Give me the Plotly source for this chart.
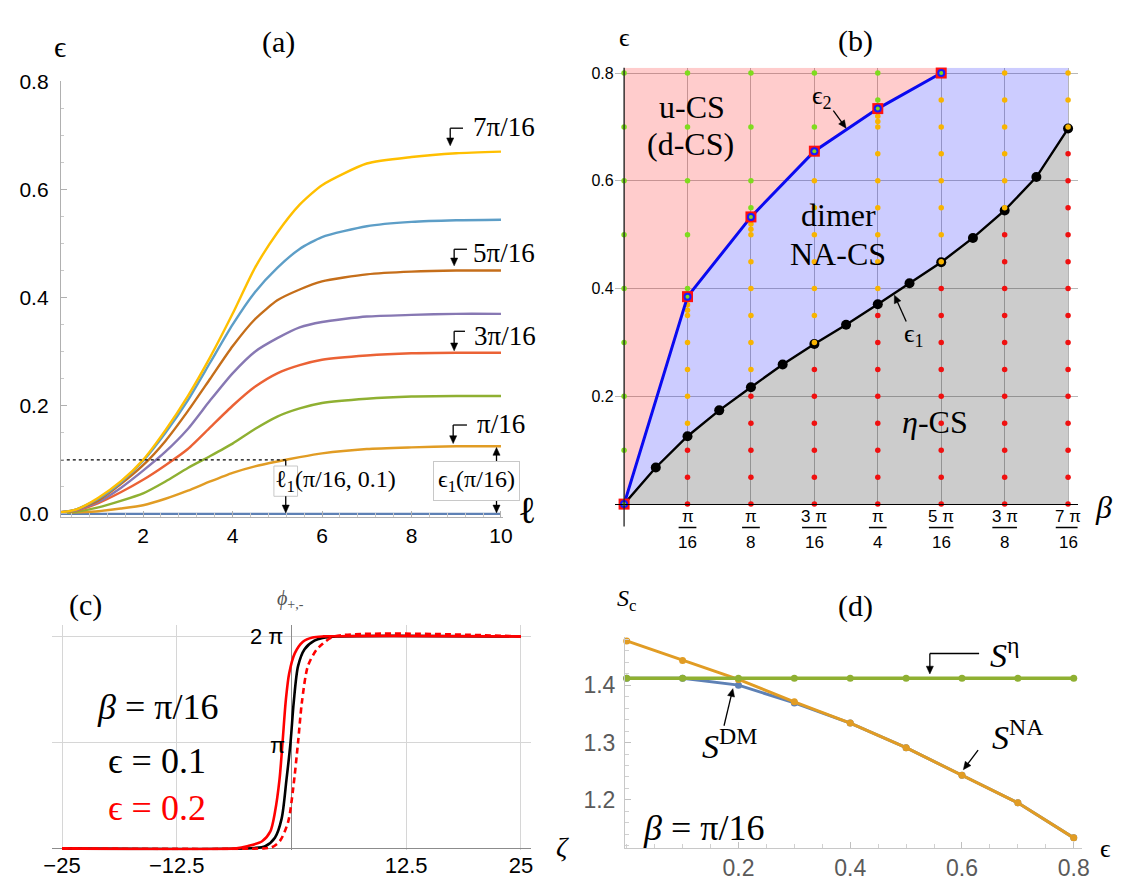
import math
import plotly.graph_objects as go

W, H = 1125, 890
SERIF = "Liberation Serif, DejaVu Serif, serif"
SANS = "Liberation Sans, Arial, sans-serif"

# ---------------- panel (a) data ----------------
ell = [0.16, 0.5, 1, 1.5, 2, 2.5, 3, 3.5, 4, 4.5, 5, 5.5, 6, 7, 8, 9, 10]
eps_b0 = [0, 0, 0, 0, 0, 0, 0, 0, 0, 0, 0, 0, 0, 0, 0, 0, 0]
eps_b1 = [0.002, 0.003, 0.005, 0.010, 0.016, 0.028, 0.043, 0.060, 0.076, 0.088, 0.097, 0.105, 0.112, 0.120, 0.123, 0.125, 0.125]
eps_b2 = [0.002, 0.004, 0.012, 0.024, 0.038, 0.060, 0.085, 0.107, 0.130, 0.157, 0.180, 0.195, 0.205, 0.213, 0.217, 0.218, 0.218]
eps_b3 = [0.003, 0.006, 0.020, 0.040, 0.063, 0.090, 0.120, 0.160, 0.200, 0.235, 0.260, 0.275, 0.285, 0.293, 0.297, 0.298, 0.298]
eps_b4 = [0.003, 0.007, 0.022, 0.048, 0.080, 0.115, 0.157, 0.210, 0.260, 0.300, 0.325, 0.345, 0.355, 0.365, 0.368, 0.370, 0.370]
eps_b5 = [0.003, 0.008, 0.025, 0.055, 0.090, 0.135, 0.190, 0.250, 0.310, 0.360, 0.395, 0.415, 0.430, 0.443, 0.448, 0.450, 0.450]
eps_b6 = [0.003, 0.008, 0.028, 0.058, 0.098, 0.150, 0.210, 0.280, 0.350, 0.410, 0.455, 0.490, 0.512, 0.532, 0.540, 0.543, 0.544]
eps_b7 = [0.003, 0.008, 0.030, 0.060, 0.100, 0.155, 0.218, 0.290, 0.370, 0.455, 0.520, 0.572, 0.608, 0.648, 0.660, 0.667, 0.670]
a_series = [eps_b0, eps_b1, eps_b2, eps_b3, eps_b4, eps_b5, eps_b6, eps_b7]
a_colors = ["#5E81B5", "#E19C24", "#8FB032", "#EB6235", "#8778B3", "#C56E1A", "#5D9EC7", "#FFBF00"]
a_level = 0.1          # dotted threshold
a_ell1 = 5.19          # l1(pi/16, 0.1)

# ---------------- panel (b) data (beta in units of pi/16) ----------------
eps1_beta = [0, 0.5, 1, 1.5, 2, 2.5, 3, 3.5, 4, 4.5, 5, 5.5, 6, 6.5, 7]
eps1_vals = [0, 0.068, 0.126, 0.174, 0.217, 0.259, 0.297, 0.333, 0.371, 0.410, 0.449, 0.494, 0.545, 0.607, 0.697]
eps2_beta = [0, 1, 2, 3, 4, 5]
eps2_vals = [0, 0.385, 0.533, 0.655, 0.734, 0.800]
b_top = 0.81
grid_cols = [0, 1, 2, 3, 4, 5, 6, 7]
red_eps_by_col = [
    [],
    [0, 0.05, 0.1],
    [0, 0.05, 0.1, 0.15, 0.2],
    [0, 0.05, 0.1, 0.15, 0.2, 0.25],
    [0, 0.05, 0.1, 0.15, 0.2, 0.25, 0.3, 0.35],
    [0, 0.05, 0.1, 0.15, 0.2, 0.25, 0.3, 0.35, 0.4],
    [0, 0.05, 0.1, 0.15, 0.2, 0.25, 0.3, 0.35, 0.4, 0.45, 0.5],
    [0, 0.05, 0.1, 0.15, 0.2, 0.25, 0.3, 0.35, 0.4, 0.45, 0.5, 0.55, 0.6, 0.65],
]
yellow_eps_by_col = [
    [],
    [0.15, 0.2, 0.25, 0.3, 0.35, 0.36, 0.37, 0.38],
    [0.25, 0.3, 0.35, 0.4, 0.45, 0.5, 0.51, 0.52, 0.53],
    [0.3, 0.35, 0.4, 0.45, 0.5, 0.55, 0.6, 0.65],
    [0.4, 0.45, 0.5, 0.55, 0.6, 0.65, 0.7, 0.71, 0.72, 0.73],
    [0.45, 0.5, 0.55, 0.6, 0.65, 0.7, 0.75, 0.8],
    [0.55, 0.6, 0.65, 0.7, 0.75, 0.8],
    [0.7, 0.75, 0.8],
]
green_eps_by_col = [
    [0.1, 0.2, 0.3, 0.4, 0.5, 0.6, 0.7, 0.8],
    [0.39, 0.4, 0.5, 0.6, 0.7, 0.8],
    [0.55, 0.6, 0.7, 0.8],
    [0.7, 0.8],
    [0.74, 0.75, 0.8],
    [],
    [],
    [],
]
beta_ticks = [1, 2, 3, 4, 5, 6, 7]
beta_tick_num = ["π", "π", "3 π", "π", "5 π", "3 π", "7 π"]
beta_tick_den = ["16", "8", "16", "4", "16", "8", "16"]
eps_ticks_b = [0.2, 0.4, 0.6, 0.8]

# ---------------- panel (c) data (phi in units of pi) ----------------
zeta_blk = [-25, -4.0, -2.86, -1.8, -1.07, -0.54, -0.1, 0.25, 0.72, 1.43, 2.5, 3.4, 5.0, 25]
phi_blk = [0, 0.003, 0.02, 0.1, 0.28, 0.65, 1.0, 1.38, 1.72, 1.88, 1.96, 1.985, 2.0, 2.0]
zeta_red = [-25, -6.0, -4.8, -3.2, -2.3, -1.8, -1.3, -0.97, -0.6, -0.25, 0.36, 1.25, 2.3, 3.5, 25]
phi_red = [0, 0, 0.02, 0.067, 0.16, 0.34, 0.65, 1.0, 1.41, 1.65, 1.84, 1.95, 1.99, 2.0, 2.0]
zeta_redd = [-25, -3.0, -2.15, -1.25, -0.36, 0.18, 0.72, 1.14, 1.79, 2.7, 3.4, 4.7, 25]
phi_redd = [0, 0, 0.01, 0.07, 0.25, 0.56, 1.0, 1.38, 1.72, 1.87, 1.93, 2.0, 2.0]
zeta_ticks = [-25, -12.5, 12.5, 25]
zeta_ticktext = ["−25", "−12.5", "12.5", "25"]

# ---------------- panel (d) data ----------------
eps_d = [0, 0.1, 0.2, 0.3, 0.4, 0.5, 0.6, 0.7, 0.8]
S_eta = [1.412, 1.412, 1.412, 1.412, 1.412, 1.412, 1.412, 1.412, 1.412]
S_NA = [1.477, 1.443, 1.410, 1.371, 1.334, 1.291, 1.243, 1.195, 1.134]
S_DM = [1.412, 1.412, 1.400, 1.369, 1.334, 1.291, 1.243, 1.195, 1.134]

fig = go.Figure()

# ---- (a) ----
for ys, col in zip(a_series, a_colors):
    fig.add_trace(go.Scatter(x=ell, y=ys, mode="lines",
                             line=dict(color=col, width=2.4, shape="spline", smoothing=0.6),
                             xaxis="x", yaxis="y", hoverinfo="skip"))
fig.add_trace(go.Scatter(x=[ell[0], a_ell1], y=[a_level, a_level], mode="lines",
                         line=dict(color="black", width=1.2, dash="dot"), xaxis="x", yaxis="y"))

# ---- (b) ----
pink_x = eps2_beta + [eps2_beta[-1], eps2_beta[0]]
pink_y = eps2_vals + [b_top, b_top]
fig.add_trace(go.Scatter(x=pink_x, y=pink_y, fill="toself", fillcolor="rgba(255,0,0,0.2)",
                         mode="none", xaxis="x2", yaxis="y2"))
blue_x = eps2_beta + [eps2_beta[-1], eps1_beta[-1]] + eps1_beta[::-1]
blue_y = eps2_vals + [b_top, b_top] + eps1_vals[::-1]
fig.add_trace(go.Scatter(x=blue_x, y=blue_y, fill="toself", fillcolor="rgba(0,0,255,0.2)",
                         mode="none", xaxis="x2", yaxis="y2"))
gray_x = eps1_beta + [eps1_beta[-1]]
gray_y = eps1_vals + [0]
fig.add_trace(go.Scatter(x=gray_x, y=gray_y, fill="toself", fillcolor="rgba(0,0,0,0.2)",
                         mode="none", xaxis="x2", yaxis="y2"))
fig.add_trace(go.Scatter(x=eps1_beta, y=eps1_vals, mode="lines+markers",
                         line=dict(color="black", width=2.4), marker=dict(color="black", size=10),
                         xaxis="x2", yaxis="y2"))
for by_col, col in [(red_eps_by_col, "#F01010"), (yellow_eps_by_col, "#F8B400"), (green_eps_by_col, "#7FDC1E")]:
    xs, ys = [], []
    for k, lst in zip(grid_cols, by_col):
        for e in lst:
            xs.append(k)
            ys.append(e)
    fig.add_trace(go.Scatter(x=xs, y=ys, mode="markers", marker=dict(color=col, size=5.5),
                             xaxis="x2", yaxis="y2", cliponaxis=False))
fig.add_trace(go.Scatter(x=eps2_beta, y=eps2_vals, mode="lines", line=dict(color="#0A0AF0", width=3),
                         xaxis="x2", yaxis="y2"))
fig.add_trace(go.Scatter(x=eps2_beta, y=eps2_vals, mode="markers",
                         marker=dict(symbol="square", color="#FF1010", size=11),
                         xaxis="x2", yaxis="y2", cliponaxis=False))
fig.add_trace(go.Scatter(x=eps2_beta, y=eps2_vals, mode="markers",
                         marker=dict(symbol="circle", color="#1A1AFF", size=8),
                         xaxis="x2", yaxis="y2", cliponaxis=False))
fig.add_trace(go.Scatter(x=eps2_beta, y=eps2_vals, mode="markers",
                         marker=dict(symbol="circle", color="#7FDC1E", size=4),
                         xaxis="x2", yaxis="y2", cliponaxis=False))

# ---- (c) ----
fig.add_trace(go.Scatter(x=zeta_blk, y=phi_blk, mode="lines", line=dict(color="black", width=2.6, shape="spline", smoothing=0.8),
                         xaxis="x3", yaxis="y3"))
fig.add_trace(go.Scatter(x=zeta_redd, y=phi_redd, mode="lines", line=dict(color="#FF0000", width=2.6, dash="6px,4px", shape="spline", smoothing=0.8),
                         xaxis="x3", yaxis="y3"))
fig.add_trace(go.Scatter(x=zeta_red, y=phi_red, mode="lines", line=dict(color="#FF0000", width=2.6, shape="spline", smoothing=0.8),
                         xaxis="x3", yaxis="y3"))

# ---- (d) ----
fig.add_trace(go.Scatter(x=eps_d, y=S_DM, mode="lines+markers", line=dict(color="#5E81B5", width=3),
                         marker=dict(size=7, color="#5E81B5"), xaxis="x4", yaxis="y4", cliponaxis=False))
fig.add_trace(go.Scatter(x=eps_d, y=S_NA, mode="lines+markers", line=dict(color="#E19C24", width=3),
                         marker=dict(size=7, color="#E19C24"), xaxis="x4", yaxis="y4", cliponaxis=False))
fig.add_trace(go.Scatter(x=eps_d, y=S_eta, mode="lines+markers", line=dict(color="#8FB032", width=3.5),
                         marker=dict(size=7, color="#8FB032"), xaxis="x4", yaxis="y4", cliponaxis=False))

# ---------------- annotations & shapes ----------------
ann = []
shp = []


def txt(x, y, s, size, color="black", family=SERIF, xanchor="center", **kw):
    d = dict(x=x / W, y=1 - y / H, xref="paper", yref="paper", text=s, showarrow=False,
             font=dict(size=size, color=color, family=family), xanchor=xanchor, yanchor="middle")
    d.update(kw)
    ann.append(d)


def seg(x0, y0, x1, y1, color="black", width=1.3):
    shp.append(dict(type="line", xref="paper", yref="paper", x0=x0 / W, y0=1 - y0 / H,
                    x1=x1 / W, y1=1 - y1 / H, line=dict(color=color, width=width), layer="above"))


def arrow(xt, yt, xs, ys, width=1.3, hl=8.0, hw=3.6):
    dx, dy = xt - xs, yt - ys
    L = math.hypot(dx, dy)
    ux, uy = dx / L, dy / L
    bx, by = xt - ux * hl, yt - uy * hl
    seg(xs, ys, bx + ux * 1.5, by + uy * 1.5, width=width)
    nx, ny = -uy, ux
    p1 = (bx + nx * hw, by + ny * hw)
    p2 = (bx - nx * hw, by - ny * hw)
    path = "M {:.5f} {:.5f} L {:.5f} {:.5f} L {:.5f} {:.5f} Z".format(
        xt / W, 1 - yt / H, p1[0] / W, 1 - p1[1] / H, p2[0] / W, 1 - p2[1] / H)
    shp.append(dict(type="path", xref="paper", yref="paper", path=path, fillcolor="black",
                    line=dict(color="black", width=0.5), layer="above"))


# (a)
txt(275, 31, "(a)", 30)
txt(53, 35, "ϵ", 30)
txt(504, 118, "7π/16", 27)
txt(504, 247, "5π/16", 27)
txt(505, 332, "3π/16", 27)
txt(501, 422, "π/16", 27)
for xa, y0, y1, xh in [(449, 119, 137, 462), (453, 243, 260, 466), (453, 327, 347, 464), (452, 423, 442, 466)]:
    seg(xa, y0, xh, y0)
    arrow(xa, y1, xa, y0)
txt(527, 510, "ℓ", 38)
# l1 marker
seg(282, 459, 282, 465)
shp.append(dict(type="rect", xref="paper", yref="paper", x0=270 / W, x1=294 / W, y0=1 - 465 / H, y1=1 - 496 / H,
                line=dict(color="#c8c8c8", width=1), fillcolor="white", layer="above"))
txt(333, 480, "ℓ<sub>1</sub>(π/16, 0.1)", 24)
arrow(282, 513, 282, 496)
# eps1 box
txt(476, 480, "ϵ<sub>1</sub>(π/16)", 24, bordercolor="#c8c8c8", borderwidth=1, bgcolor="white", borderpad=4)
arrow(496, 446, 496, 463)
arrow(496, 513, 496, 497)

# (b)
txt(861, 30, "(b)", 30)
txt(626, 26, "ϵ", 26)
txt(694, 97, "u-CS", 32)
txt(693, 135, "(d-CS)", 32)
txt(826, 87, "ϵ<sub>2</sub>", 26)
arrow(851, 119, 838, 101)
txt(843, 208, "dimer", 32)
txt(843, 248, "NA-CS", 32)
txt(920, 331, "ϵ<sub>1</sub>", 26)
arrow(900, 290, 912, 317)
txt(941, 420, "<i>η</i>-CS", 32)
txt(1112, 507, "<i>β</i>", 32)
for k, num, den in zip(beta_ticks, beta_tick_num, beta_tick_den):
    ann.append(dict(x=k, y=1 - 517 / H, xref="x2", yref="paper", text=num, showarrow=False,
                    font=dict(size=17, family=SANS, color="black"), xanchor="center", yanchor="middle"))
    ann.append(dict(x=k, y=1 - 543 / H, xref="x2", yref="paper", text=den, showarrow=False,
                    font=dict(size=17, family=SANS, color="black"), xanchor="center", yanchor="middle"))
    hw = (12.5 if len(num) > 1 else 9.0) / 64.4
    shp.append(dict(type="line", xref="x2", yref="paper", x0=k - hw, x1=k + hw, y0=1 - 528 / H, y1=1 - 528 / H,
                    line=dict(color="black", width=1.5)))
shp.append(dict(type="line", xref="x2", yref="paper", x0=0, x1=0, y0=1 - 57 / H, y1=1 - 527 / H,
                line=dict(color="#222", width=1.3), layer="above"))

# (c)
txt(79, 607, "(c)", 30)
txt(287, 602, "<i>ϕ</i><sub>+,-</sub>", 20, color="#555")
txt(282, 640, "2 π", 22, family=SANS, xanchor="right")
txt(283, 751, "π", 22, family=SANS, xanchor="right")
txt(152, 712, "<i>β</i> = π/16", 36)
txt(151, 767, "ϵ = 0.1", 36)
txt(151, 815, "ϵ = 0.2", 36, color="#FF0000")
txt(563, 855, "<i>ζ</i>", 28)

# (d)
txt(628, 602, "<i>S</i><sub>c</sub>", 24)
txt(860, 608, "(d)", 30)
txt(1012, 657, "<i>S</i><sup>η</sup>", 34)
seg(986, 657, 936, 657)
arrow(936, 678, 936, 657)
txt(733, 750, "<i>S</i><sup>DM</sup>", 34)
arrow(736, 693, 727, 731)
txt(1025, 740, "<i>S</i><sup>NA</sup>", 34)
arrow(970, 776, 985, 756)
txt(706, 836, "<i>β</i> = π/16", 36)
txt(1114, 857, "ϵ", 26)

fig.update_layout(
    width=W, height=H, margin=dict(l=0, r=0, t=0, b=0),
    paper_bgcolor="white", plot_bgcolor="white", showlegend=False,
    annotations=ann, shapes=shp,
    xaxis=dict(domain=[53.6 / W, 502.8 / W], range=[0.16, 10.05], anchor="y",
               tickvals=[2, 4, 6, 8, 10], ticks="inside", ticklen=6, tickcolor="#b0b0b0",
               minor=dict(dtick=0.4, tick0=0, ticks="inside", ticklen=3.5, tickcolor="#c8c8c8"),
               showline=True, linecolor="#b0b0b0", linewidth=1, showgrid=False, zeroline=False,
               tickfont=dict(family=SANS, size=21, color="black")),
    yaxis=dict(domain=[(H - 516.8) / H, (H - 71) / H], range=[-0.005, 0.8], anchor="x",
               tickvals=[0, 0.2, 0.4, 0.6, 0.8], ticktext=["0.0", "0.2", "0.4", "0.6", "0.8"],
               ticks="inside", ticklen=6, tickcolor="#b0b0b0",
               minor=dict(dtick=0.05, tick0=0, ticks="inside", ticklen=3.5, tickcolor="#c8c8c8"),
               showline=True, linecolor="#b0b0b0", linewidth=1, showgrid=False, zeroline=False,
               tickfont=dict(family=SANS, size=21, color="black"), ticklabelstandoff=7),
    xaxis2=dict(domain=[616 / W, 1086 / W], range=[-0.148, 7.15], anchor="y2",
                tickvals=[0, 1, 2, 3, 4, 5, 6, 7], showticklabels=False, ticks="",
                showgrid=True, gridcolor="#b8b8b8", gridwidth=1, zeroline=False,
                showline=True, linecolor="black", linewidth=1.3),
    yaxis2=dict(domain=[(H - 504) / H, (H - 57) / H], range=[0, b_top], anchor="x2",
                tickvals=eps_ticks_b, ticktext=["0.2", "0.4", "0.6", "0.8"], ticks="",
                showgrid=True, gridcolor="#b8b8b8", gridwidth=1, zeroline=False, showline=False,
                tickfont=dict(family=SANS, size=16, color="black")),
    xaxis3=dict(domain=[44.6 / W, 531 / W], range=[-26.1, 26.1], anchor="y3",
                tickvals=zeta_ticks, ticktext=zeta_ticktext, ticks="",
                showgrid=True, gridcolor="#d6d6d6", zeroline=True, zerolinecolor="#8c8c8c", zerolinewidth=1.2,
                showline=False, tickfont=dict(family=SANS, size=22, color="black")),
    yaxis3=dict(domain=[(H - 858.6) / H, (H - 628) / H], range=[-0.019, 2.106], anchor="x3",
                tickvals=[1, 2], showticklabels=False, ticks="",
                showgrid=True, gridcolor="#d6d6d6", zeroline=True, zerolinecolor="#8c8c8c", zerolinewidth=1.2),
    xaxis4=dict(domain=[626.5 / W, 1090.6 / W], range=[-0.003, 0.815], anchor="y4",
                tickvals=[0.2, 0.4, 0.6, 0.8], ticks="inside", ticklen=6, tickcolor="#c0c0c0",
                minor=dict(dtick=0.05, tick0=0, ticks="inside", ticklen=3.5, tickcolor="#d0d0d0"),
                showline=True, linecolor="#c8c8c8", showgrid=False, zeroline=False,
                tickfont=dict(family=SANS, size=23, color="#5a5a5a")),
    yaxis4=dict(domain=[(H - 856) / H, (H - 640) / H], range=[1.1167, 1.484], anchor="x4",
                tickvals=[1.2, 1.3, 1.4], ticks="inside", ticklen=6, tickcolor="#c0c0c0",
                minor=dict(dtick=0.02, tick0=1.2, ticks="inside", ticklen=3.5, tickcolor="#d0d0d0"),
                showline=True, linecolor="#c8c8c8", showgrid=False, zeroline=False,
                tickfont=dict(family=SANS, size=23, color="#5a5a5a"), ticklabelstandoff=4),
)

fig.write_html("out.html")
